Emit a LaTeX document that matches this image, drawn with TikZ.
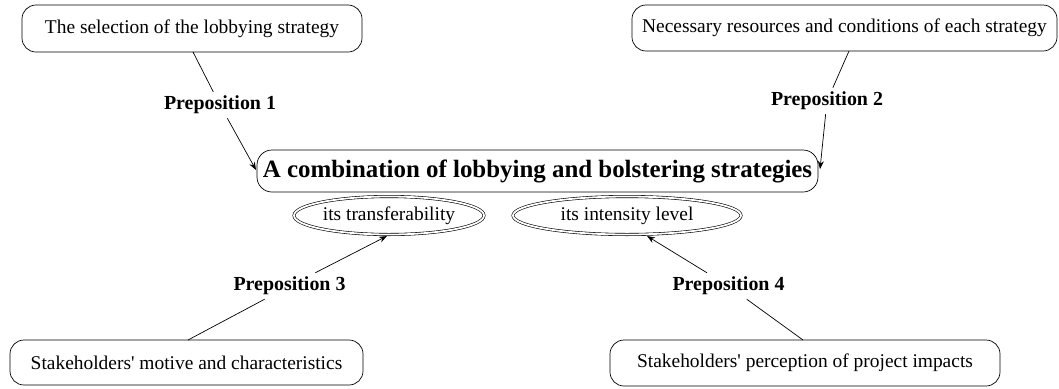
\documentclass[tikz,border=0pt]{standalone}
\usepackage{fontspec}
\setmainfont{Liberation Serif}
\usetikzlibrary{shapes.geometric,arrows.meta}
\begin{document}
\begin{tikzpicture}[x=1bp,y=-1bp,
  box/.style={draw,rounded corners=14bp,line width=0.7bp,inner sep=0pt,font=\fontsize{19.5}{21}\selectfont},
  mainbox/.style={draw,rounded corners=15bp,line width=0.7bp,inner sep=0pt,font=\bfseries\fontsize{25}{27}\selectfont},
  oval/.style={draw,ellipse,double,double distance=1.8bp,line width=0.6bp,inner sep=0pt,font=\fontsize{19.5}{21}\selectfont},
  prep/.style={inner sep=4bp,font=\bfseries\fontsize{20}{22}\selectfont},
  link/.style={line width=0.7bp},
  arr/.style={line width=0.7bp,-{Stealth[length=8bp,width=6bp]}}]
\useasboundingbox (0,0) rectangle (1059,388);
\node[box,minimum width=340bp,minimum height=47bp] (sel) at (192,28.5) {The selection of the lobbying strategy};
\node[box,minimum width=425bp,minimum height=46bp] (res) at (844.5,28) {Necessary resources and conditions of each strategy};
\node[mainbox,minimum width=561bp,minimum height=42bp] (comb) at (537.5,171) {A combination of lobbying and bolstering strategies};
\node[oval,minimum width=190bp,minimum height=38bp] (trans) at (389,215.5) {its transferability};
\node[oval,minimum width=228bp,minimum height=38bp] (inten) at (627,215.5) {its intensity level};
\node[box,minimum width=353bp,minimum height=45bp] (motive) at (186.5,362.5) {Stakeholders\textquotesingle{} motive and characteristics};
\node[box,minimum width=390bp,minimum height=46bp] (percep) at (805,363) {Stakeholders\textquotesingle{} perception of project impacts};
\node[prep] (p1) at (220,105) {Preposition 1};
\node[prep] (p2) at (827,101) {Preposition 2};
\node[prep] (p3) at (289.5,286) {Preposition 3};
\node[prep] (p4) at (728.5,286) {Preposition 4};
\coordinate (s1) at (193,52);
\coordinate (s2) at (849,51);
\coordinate (s3) at (188,340);
\coordinate (s4) at (803,340);
\coordinate (c1) at (256,170);
\coordinate (c2) at (820,169);
\coordinate (t3) at (387,236);
\coordinate (t4) at (647,236);
\draw[link] (s1) -- (p1);
\draw[arr] (p1) -- (c1);
\draw[link] (s2) -- (p2);
\draw[arr] (p2) -- (c2);
\draw[link] (s3) -- (p3);
\draw[arr] (p3) -- (t3);
\draw[link] (s4) -- (p4);
\draw[arr] (p4) -- (t4);
\end{tikzpicture}
\end{document}
